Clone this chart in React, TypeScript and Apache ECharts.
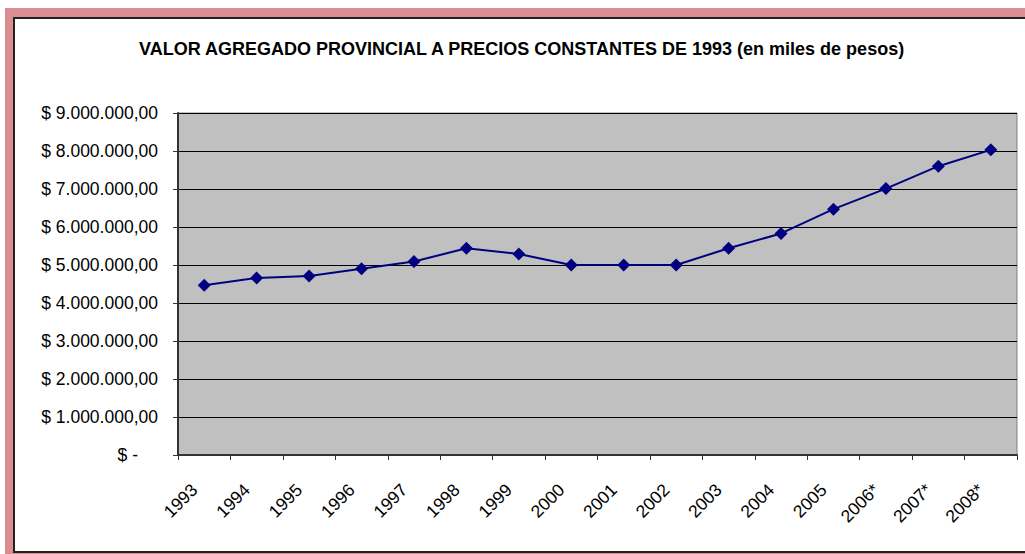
import React, { useEffect, useRef } from "react";
import * as echarts from "echarts";

const years = ["1993","1994","1995","1996","1997","1998","1999","2000","2001","2002","2003","2004","2005","2006*","2007*","2008*"];
const values = [4470000, 4660000, 4710000, 4900000, 5090000, 5440000, 5290000, 5000000, 5000000, 5000000, 5440000, 5830000, 6470000, 7010000, 7600000, 8030000];
const titleText = "VALOR AGREGADO PROVINCIAL A PRECIOS CONSTANTES DE 1993 (en miles de pesos)";

const FONT = 'Arial, "Liberation Sans", sans-serif';

function fmt(v: number): string {
  if (v === 0) return "{z|$ -}";
  const s = Math.round(v).toString().replace(/\B(?=(\d{3})+(?!\d))/g, ".");
  return "$ " + s + ",00";
}

export default function App() {
  const ref = useRef<HTMLDivElement>(null);
  useEffect(() => {
    if (!ref.current) return;
    const chart = echarts.init(ref.current, null, { renderer: "svg" });
    chart.setOption({
      animation: false,
      backgroundColor: "#ffffff",
      graphic: [
        { type: "rect", z: -10, silent: true, shape: { x: 5, y: 8, width: 1020, height: 546 }, style: { fill: "#DA8E91" } },
        { type: "rect", z: -9, silent: true, shape: { x: 14, y: 18, width: 1020, height: 534 }, style: { fill: "#ffffff", stroke: "#222222", lineWidth: 2 } },
      ],
      title: {
        text: titleText,
        left: 134,
        top: 35,
        textStyle: { fontFamily: FONT, fontSize: 18, fontWeight: "bold", color: "#000" },
      },
      grid: { left: 178, right: 8, top: 113, bottom: 99, show: true, backgroundColor: "#C0C0C0", borderColor: "#808080", borderWidth: 1 },
      xAxis: {
        type: "category",
        data: years,
        boundaryGap: true,
        axisLine: { lineStyle: { color: "#333333", width: 2 } },
        axisTick: { show: true, alignWithLabel: false, length: 5, lineStyle: { color: "#333333" } },
        axisLabel: { rotate: 45, margin: 22, padding: [0, 14, 0, 0], fontFamily: FONT, fontSize: 17.5, color: "#000", interval: 0 },
      },
      yAxis: {
        type: "value",
        min: 0,
        max: 9000000,
        interval: 1000000,
        axisLine: { show: true, lineStyle: { color: "#333333", width: 2 } },
        axisTick: { show: true, length: 5, lineStyle: { color: "#333333" } },
        splitLine: { show: true, lineStyle: { color: "#000000", width: 1 } },
        axisLabel: {
          margin: 20,
          fontFamily: FONT,
          fontSize: 17.5,
          color: "#000",
          formatter: fmt,
          rich: { z: { fontFamily: FONT, fontSize: 17.5, color: "#000", padding: [0, 20, 0, 0] } },
        },
      },
      series: [
        {
          type: "line",
          data: values,
          symbol: "diamond",
          symbolSize: 13,
          lineStyle: { color: "#000080", width: 2 },
          itemStyle: { color: "#000080" },
        },
      ],
    });
    return () => chart.dispose();
  }, []);
  return <div ref={ref} style={{ position: "absolute", left: 0, top: 0, width: 1025, height: 554 }} />;
}
